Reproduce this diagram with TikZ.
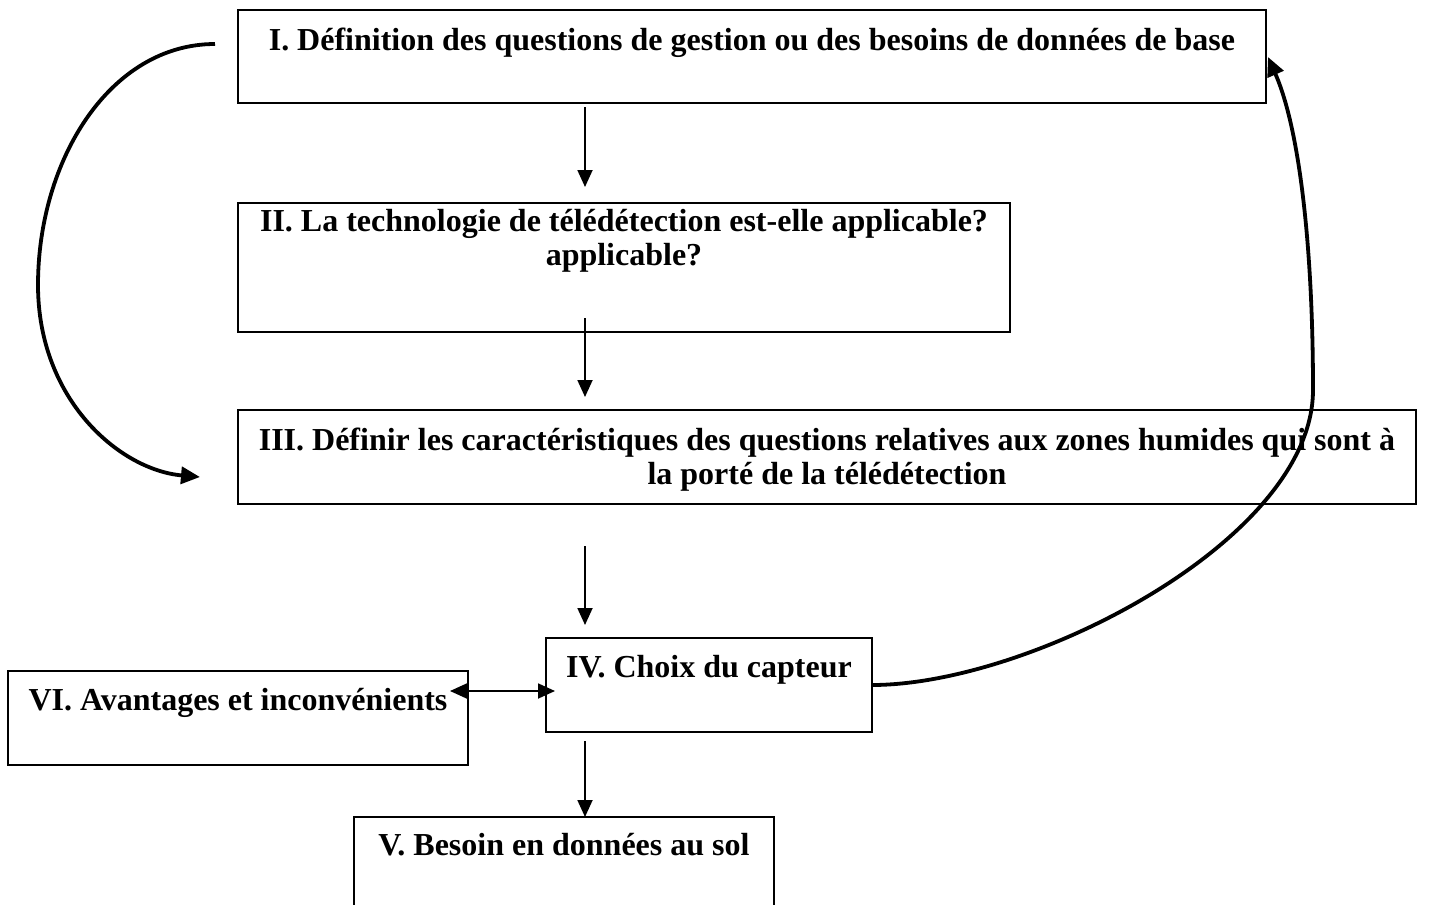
\documentclass[tikz,border=0pt]{standalone}
\usepackage{fontspec}
\setmainfont{Liberation Serif}
\usetikzlibrary{arrows.meta,calc}
\newcommand\bxt[4]{\parbox[c][#2][t]{#1}{\centering\fontsize{32}{34}\selectfont\bfseries\vspace*{#3}\strut#4\strut}}
\tikzset{
  box/.style={draw,line width=1.8pt,inner sep=0pt,outer sep=0pt,anchor=north west},
  arr/.style={line width=1.8pt,-{Triangle[length=17pt,width=15pt]}},
  darr/.style={line width=1.8pt,{Triangle[length=17pt,width=15pt]}-{Triangle[length=17pt,width=15pt]}},
  curv/.style={line width=3.8pt,-{Triangle[length=19pt,width=17pt]}}
}
\begin{document}
\begin{tikzpicture}[x=1pt,y=-1pt]
\useasboundingbox (0,0) rectangle (1452,905);
\fill[white] (0,0) rectangle (1452,905);
\node[box] (I) at (238,10) {\bxt{1028pt}{93pt}{16.2pt}{I. Définition des questions de gestion ou des besoins de données de base}};
\node[box] (II) at (238,203) {\bxt{772pt}{129pt}{4.2pt}{II. La technologie de télédétection est-elle applicable?\\ applicable?}};
\node[box] (III) at (238,410) {\bxt{1178pt}{94pt}{16.2pt}{III. Définir les caractéristiques des questions relatives aux zones humides qui sont à\\ la porté de la télédétection}};
\node[box] (IV) at (546,638) {\bxt{326pt}{94pt}{15.2pt}{IV. Choix du capteur}};
\node[box] (VI) at (8,671) {\bxt{460pt}{94pt}{15.2pt}{VI. Avantages et inconvénients}};
\node[box] (V) at (354,817) {\bxt{420pt}{110pt}{14.2pt}{V. Besoin en données au sol}};
\coordinate (ax) at (585,0);
\draw[arr] ($(I.south -| ax)+(0,4)$) -- ($(II.north -| ax)+(0,-16)$);
\draw[arr] ($(II.south -| ax)+(0,-14)$) -- ($(III.north -| ax)+(0,-13)$);
\draw[arr] ($(III.south -| ax)+(0,42)$) -- ($(IV.north -| ax)+(0,-13)$);
\draw[arr] ($(IV.south -| ax)+(0,9)$) -- (V.north -| ax);
\draw[darr] ($(VI.north east)+(-18,20)$) -- ($(IV.north west)+(9,53)$);
\draw[curv] ($(I.north west)+(-23,34)$) .. controls (110,44) and (38,160) .. (38,285) .. controls (38,400) and (120,470) .. ($(III.north west)+(-38,67)$);
\draw[curv] ($(IV.north east)+(0,47)$) .. controls (1030,685) and (1313,540) .. (1313,390) .. controls (1313,250) and (1300,130) .. ($(I.north east)+(2,47)$);
\end{tikzpicture}
\end{document}
